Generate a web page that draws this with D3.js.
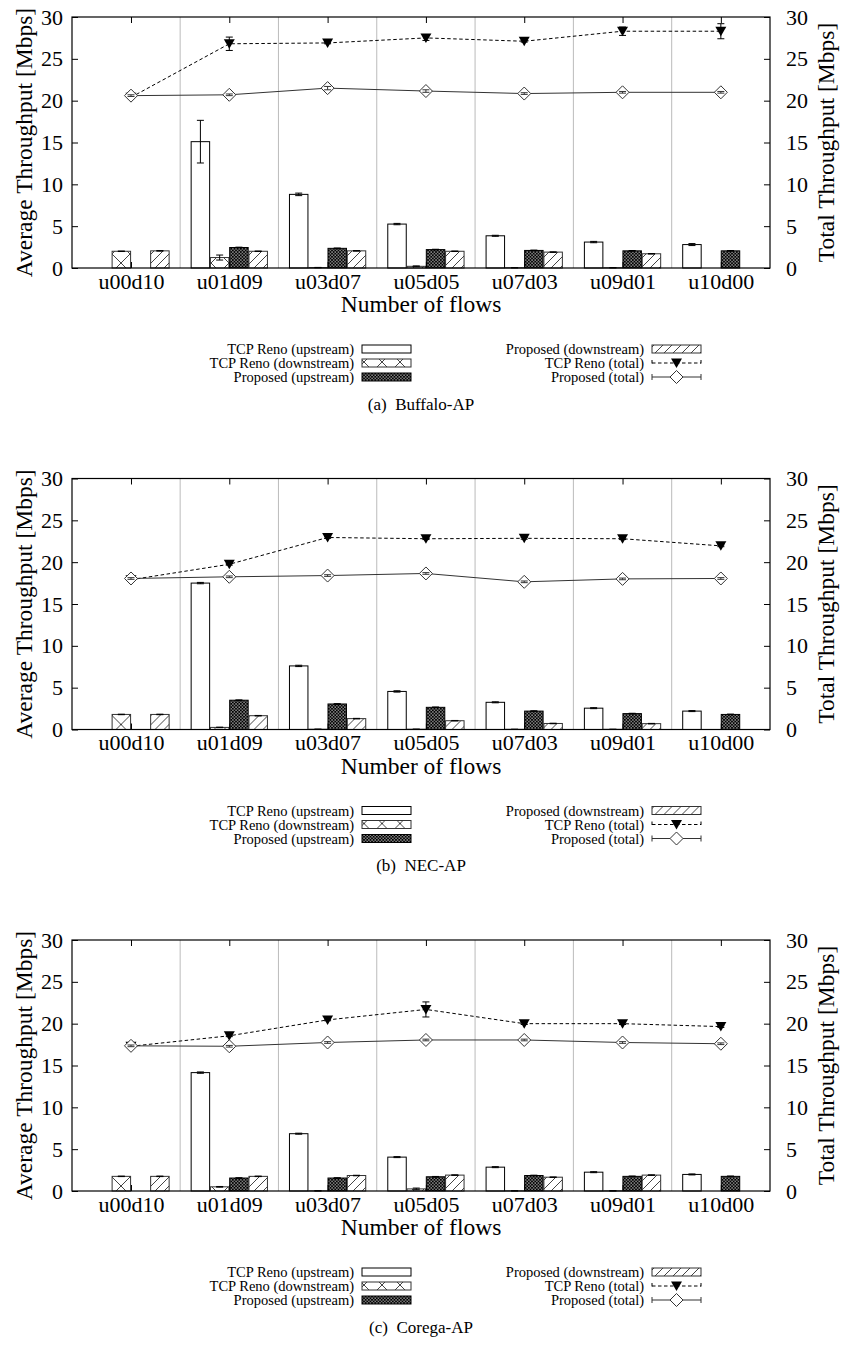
<!DOCTYPE html>
<html><head><meta charset="utf-8">
<script src="https://cdn.jsdelivr.net/npm/d3@7"></script>
<style>
body{margin:0;background:#fff;}
svg{display:block;}
text{font-family:'Liberation Serif','Times New Roman',Times,'Nimbus Roman','DejaVu Serif','Noto Serif',serif;fill:#000;}
</style></head><body>
<svg id="chart" width="845" height="1355"></svg>
<script>
// ---------------- data ----------------
const categories = ["u00d10","u01d09","u03d07","u05d05","u07d03","u09d01","u10d00"];
const yTickValues = [0,5,10,15,20,25,30];
const captions = ["(a)  Buffalo-AP","(b)  NEC-AP","(c)  Corega-AP"];
const seriesNames = ["TCP Reno (upstream)","TCP Reno (downstream)","Proposed (upstream)",
                     "Proposed (downstream)","TCP Reno (total)","Proposed (total)"];

// (a) Buffalo-AP
const buffaloRenoUp      = [0, 15.1, 8.8, 5.25, 3.85, 3.1, 2.8];
const buffaloRenoUpErr   = [0, 2.55, 0.15, 0.08, 0.06, 0.08, 0.12];
const buffaloRenoDown    = [2.0, 1.25, 0.05, 0.2, 0.03, 0.03, 0];
const buffaloRenoDownErr = [0.03, 0.3, 0.02, 0.05, 0.01, 0.01, 0];
const buffaloPropUp      = [0, 2.45, 2.35, 2.2, 2.1, 2.05, 2.05];
const buffaloPropUpErr   = [0, 0.04, 0.04, 0.04, 0.04, 0.04, 0.04];
const buffaloPropDown    = [2.05, 2.0, 2.05, 2.0, 1.9, 1.7, 0];
const buffaloPropDownErr = [0.03, 0.03, 0.03, 0.03, 0.03, 0.03, 0];
const buffaloRenoTotal   = [20.4, 26.8, 26.9, 27.5, 27.1, 28.3, 28.3];
const buffaloRenoTotalErr= [0.15, 0.8, 0.1, 0.3, 0.1, 0.5, 0.9];
const buffaloPropTotal   = [20.6, 20.7, 21.5, 21.15, 20.85, 21.0, 21.0];
const buffaloPropTotalErr= [0.1, 0.1, 0.2, 0.15, 0.1, 0.1, 0.1];

// (b) NEC-AP
const necRenoUp      = [0, 17.5, 7.6, 4.55, 3.25, 2.55, 2.2];
const necRenoUpErr   = [0, 0.08, 0.08, 0.08, 0.06, 0.06, 0.06];
const necRenoDown    = [1.8, 0.25, 0.03, 0.03, 0.02, 0.02, 0];
const necRenoDownErr = [0.03, 0.03, 0.01, 0.01, 0.01, 0.01, 0];
const necPropUp      = [0, 3.5, 3.05, 2.65, 2.2, 1.9, 1.8];
const necPropUpErr   = [0, 0.04, 0.04, 0.04, 0.04, 0.04, 0.04];
const necPropDown    = [1.8, 1.65, 1.3, 1.05, 0.72, 0.7, 0];
const necPropDownErr = [0.03, 0.03, 0.03, 0.03, 0.03, 0.03, 0];
const necRenoTotal   = [17.9, 19.75, 22.95, 22.8, 22.85, 22.8, 21.95];
const necRenoTotalErr= [0.1, 0.1, 0.1, 0.1, 0.1, 0.1, 0.1];
const necPropTotal   = [18.05, 18.25, 18.4, 18.65, 17.65, 18.0, 18.05];
const necPropTotalErr= [0.1, 0.1, 0.1, 0.1, 0.1, 0.1, 0.1];

// (c) Corega-AP
const coregaRenoUp      = [0, 14.15, 6.85, 4.05, 2.85, 2.25, 1.98];
const coregaRenoUpErr   = [0, 0.08, 0.06, 0.06, 0.06, 0.06, 0.06];
const coregaRenoDown    = [1.75, 0.5, 0.02, 0.25, 0.02, 0.02, 0];
const coregaRenoDownErr = [0.03, 0.04, 0.01, 0.1, 0.01, 0.01, 0];
const coregaPropUp      = [0, 1.55, 1.55, 1.7, 1.85, 1.75, 1.75];
const coregaPropUpErr   = [0, 0.04, 0.04, 0.04, 0.04, 0.04, 0.04];
const coregaPropDown    = [1.75, 1.75, 1.85, 1.9, 1.65, 1.9, 0];
const coregaPropDownErr = [0.03, 0.03, 0.03, 0.03, 0.03, 0.03, 0];
const coregaRenoTotal   = [17.3, 18.55, 20.45, 21.7, 20.0, 20.0, 19.65];
const coregaRenoTotalErr= [0.1, 0.1, 0.1, 0.9, 0.1, 0.1, 0.1];
const coregaPropTotal   = [17.35, 17.3, 17.75, 18.05, 18.05, 17.75, 17.6];
const coregaPropTotalErr= [0.1, 0.1, 0.1, 0.1, 0.1, 0.1, 0.1];

const panels = [
  {caption: captions[0],
   bars: [[buffaloRenoUp,buffaloRenoUpErr],[buffaloRenoDown,buffaloRenoDownErr],[buffaloPropUp,buffaloPropUpErr],[buffaloPropDown,buffaloPropDownErr]],
   renoTotal: [buffaloRenoTotal,buffaloRenoTotalErr], propTotal: [buffaloPropTotal,buffaloPropTotalErr]},
  {caption: captions[1],
   bars: [[necRenoUp,necRenoUpErr],[necRenoDown,necRenoDownErr],[necPropUp,necPropUpErr],[necPropDown,necPropDownErr]],
   renoTotal: [necRenoTotal,necRenoTotalErr], propTotal: [necPropTotal,necPropTotalErr]},
  {caption: captions[2],
   bars: [[coregaRenoUp,coregaRenoUpErr],[coregaRenoDown,coregaRenoDownErr],[coregaPropUp,coregaPropUpErr],[coregaPropDown,coregaPropDownErr]],
   renoTotal: [coregaRenoTotal,coregaRenoTotalErr], propTotal: [coregaPropTotal,coregaPropTotalErr]}
];

// ---------------- layout ----------------
const FONT = "'Liberation Serif','Times New Roman',Times,'Nimbus Roman','DejaVu Serif','Noto Serif',serif";
const svg = d3.select("#chart");
const defs = svg.append("defs");

// crosshatch
const pX = defs.append("pattern").attr("id","pCross").attr("patternUnits","userSpaceOnUse")
  .attr("width",18).attr("height",18).attr("x",4).attr("y",2);
pX.append("rect").attr("width",18).attr("height",18).attr("fill","#fff");
pX.append("path").attr("d","M0,0L18,18M18,0L0,18").attr("stroke","#444").attr("stroke-width",1).attr("fill","none");
// diagonal
const pD = defs.append("pattern").attr("id","pDiag").attr("patternUnits","userSpaceOnUse")
  .attr("width",9).attr("height",9);
pD.append("rect").attr("width",9).attr("height",9).attr("fill","#fff");
pD.append("path").attr("d","M0,9L9,0M-2,2L2,-2M7,11L11,7").attr("stroke","#444").attr("stroke-width",1).attr("fill","none");
// dense
const pN = defs.append("pattern").attr("id","pDense").attr("patternUnits","userSpaceOnUse")
  .attr("width",3.2).attr("height",3.2);
pN.append("rect").attr("width",3.2).attr("height",3.2).attr("fill","#000");
pN.append("rect").attr("x",0.3).attr("y",0.3).attr("width",1.1).attr("height",1.1).attr("fill","#fff");
pN.append("rect").attr("x",1.9).attr("y",1.9).attr("width",1.1).attr("height",1.1).attr("fill","#fff");

const barFills = ["#fff","url(#pCross)","url(#pDense)","url(#pDiag)"];
const barStrokes = ["#000","#333","#000","#333"];

const PL = 72, PR = 770, PT = 17, PB = 268;
const x = d3.scaleLinear().domain([-0.6, 6.5]).range([PL, PR]);
const y = d3.scaleLinear().domain([0, 30]).range([PB, PT]);
const slot = 0.196, barW = 0.188;
const panelOffsets = [0, 461.5, 923];

const triPath = "M-5.5,-4.5L5.5,-4.5L0,5Z";
const diaPath = "M0,-6.5L6.5,0L0,6.5L-6.5,0Z";

function errBar(g, cx, v, e, cap, color) {
  if (!e) return;
  g.append("path")
    .attr("d", `M${cx},${y(v-e)}V${y(v+e)}M${cx-cap},${y(v-e)}H${cx+cap}M${cx-cap},${y(v+e)}H${cx+cap}`)
    .attr("stroke", color).attr("stroke-width",1).attr("fill","none");
}

panels.forEach((p, pi) => {
  const g = svg.append("g").attr("transform", `translate(0,${panelOffsets[pi]})`);

  g.selectAll(".grid").data(d3.range(6)).enter().append("line")
    .attr("x1", d => x(d + 0.5)).attr("x2", d => x(d + 0.5))
    .attr("y1", PT).attr("y2", PB).attr("stroke","#bbb").attr("stroke-width",1);

  p.bars.forEach(([vals, errs], k) => {
    const bg = g.append("g");
    vals.forEach((v, i) => {
      if (v <= 0) return;
      const cx = x(i + (k - 1.5) * slot);
      const w = x(barW) - x(0);
      bg.append("rect").attr("x", cx - w/2).attr("y", y(v))
        .attr("width", w).attr("height", y(0) - y(v))
        .attr("fill", barFills[k]).attr("stroke", barStrokes[k]).attr("stroke-width", 1);
    });
    vals.forEach((v, i) => {
      if (v <= 0) return;
      errBar(bg, x(i + (k - 1.5) * slot), v, errs[i], 3.5, "#000");
    });
  });

  const [rt, rtE] = p.renoTotal;
  const line = d3.line().x((d,i) => x(i)).y(d => y(d));
  g.append("path").attr("d", line(rt)).attr("fill","none").attr("stroke","#000")
    .attr("stroke-width",1).attr("stroke-dasharray","3.5,2.5");
  rt.forEach((v,i) => errBar(g, x(i), v, rtE[i], 3.5, "#000"));
  g.selectAll(".tri").data(rt).enter().append("path")
    .attr("d", triPath).attr("transform", (d,i) => `translate(${x(i)},${y(d)})`).attr("fill","#000");

  const [pt, ptE] = p.propTotal;
  g.append("path").attr("d", line(pt)).attr("fill","none").attr("stroke","#333").attr("stroke-width",1);
  g.selectAll(".dia").data(pt).enter().append("path")
    .attr("d", diaPath).attr("transform", (d,i) => `translate(${x(i)},${y(d)})`)
    .attr("fill","#fff").attr("stroke","#333").attr("stroke-width",1);
  pt.forEach((v,i) => errBar(g, x(i), v, ptE[i], 3.5, "#333"));

  g.append("rect").attr("x",PL).attr("y",PT).attr("width",PR-PL).attr("height",PB-PT)
    .attr("fill","none").attr("stroke","#000").attr("stroke-width",1.2);

  const styleAxis = (a, size) => {
    a.select(".domain").remove();
    a.selectAll("line").attr("stroke","#000");
    a.attr("font-family", FONT).attr("font-size", size);
    a.selectAll("text").attr("font-size", size).style("font-family", FONT);
  };
  const ax = g.append("g").attr("transform",`translate(${PL},0)`)
    .call(d3.axisLeft(y).tickValues(yTickValues).tickSize(-6).tickPadding(9));
  styleAxis(ax, 22);
  const ay2 = g.append("g").attr("transform",`translate(${PR},0)`)
    .call(d3.axisRight(y).tickValues(yTickValues).tickSize(-6).tickPadding(16));
  styleAxis(ay2, 22);
  const axb = g.append("g").attr("transform",`translate(0,${PB})`)
    .call(d3.axisBottom(x).tickValues(d3.range(categories.length)).tickFormat(i => categories[i]).tickSize(-6).tickPadding(5));
  styleAxis(axb, 22);
  const axt = g.append("g").attr("transform",`translate(0,${PT})`)
    .call(d3.axisTop(x).tickValues(d3.range(categories.length)).tickFormat("").tickSize(-6));
  styleAxis(axt, 22);

  const T = (sel) => sel.style("font-family", FONT);
  T(g.append("text").attr("transform",`translate(24,${(PT+PB)/2}) rotate(-90)`)
    .attr("text-anchor","middle").attr("dy","0.35em").attr("font-size",23.5)
    .text("Average Throughput [Mbps]"));
  T(g.append("text").attr("transform",`translate(826,${(PT+PB)/2}) rotate(-90)`)
    .attr("text-anchor","middle").attr("dy","0.35em").attr("font-size",23.5)
    .text("Total Throughput [Mbps]"));
  T(g.append("text").attr("x", (PL+PR)/2).attr("y", 304).attr("dy","0.35em")
    .attr("text-anchor","middle").attr("font-size",23.5).text("Number of flows"));

  const rows = [349, 363, 377];
  const lg = g.append("g");
  const items = [
    {col:0,row:0,type:"bar",k:0},{col:0,row:1,type:"bar",k:1},{col:0,row:2,type:"bar",k:2},
    {col:1,row:0,type:"bar",k:3},{col:1,row:1,type:"reno"},{col:1,row:2,type:"prop"}
  ];
  const cols = [{tx:354, s0:362, s1:411},{tx:644, s0:652, s1:701}];
  items.forEach((it, n) => {
    const c = cols[it.col], yy = rows[it.row];
    T(lg.append("text").attr("x", c.tx).attr("y", yy).attr("dy","0.35em")
      .attr("text-anchor","end").attr("font-size",14.5).text(seriesNames[n]));
    if (it.type === "bar") {
      lg.append("rect").attr("x", c.s0).attr("y", yy - 4).attr("width", c.s1 - c.s0).attr("height", 8)
        .attr("fill", barFills[it.k]).attr("stroke", barStrokes[it.k]).attr("stroke-width",1);
    } else {
      const reno = it.type === "reno";
      const col = reno ? "#000" : "#333";
      lg.append("path").attr("d", `M${c.s0},${yy}H${c.s1}M${c.s0},${yy-3}V${yy+3}M${c.s1},${yy-3}V${yy+3}`)
        .attr("stroke", col).attr("stroke-width",1).attr("fill","none")
        .attr("stroke-dasharray", reno ? "3.5,2.5" : null);
      lg.append("path").attr("d", reno ? triPath : diaPath)
        .attr("transform", `translate(${(c.s0+c.s1)/2},${yy})`)
        .attr("fill", reno ? "#000" : "#fff").attr("stroke", reno ? "none" : "#333").attr("stroke-width",1);
    }
  });

  T(g.append("text").attr("x", (PL+PR)/2).attr("y", 404).attr("dy","0.35em")
    .attr("text-anchor","middle").attr("font-size",17).style("white-space","pre").text(p.caption));
});
</script>
</body></html>
